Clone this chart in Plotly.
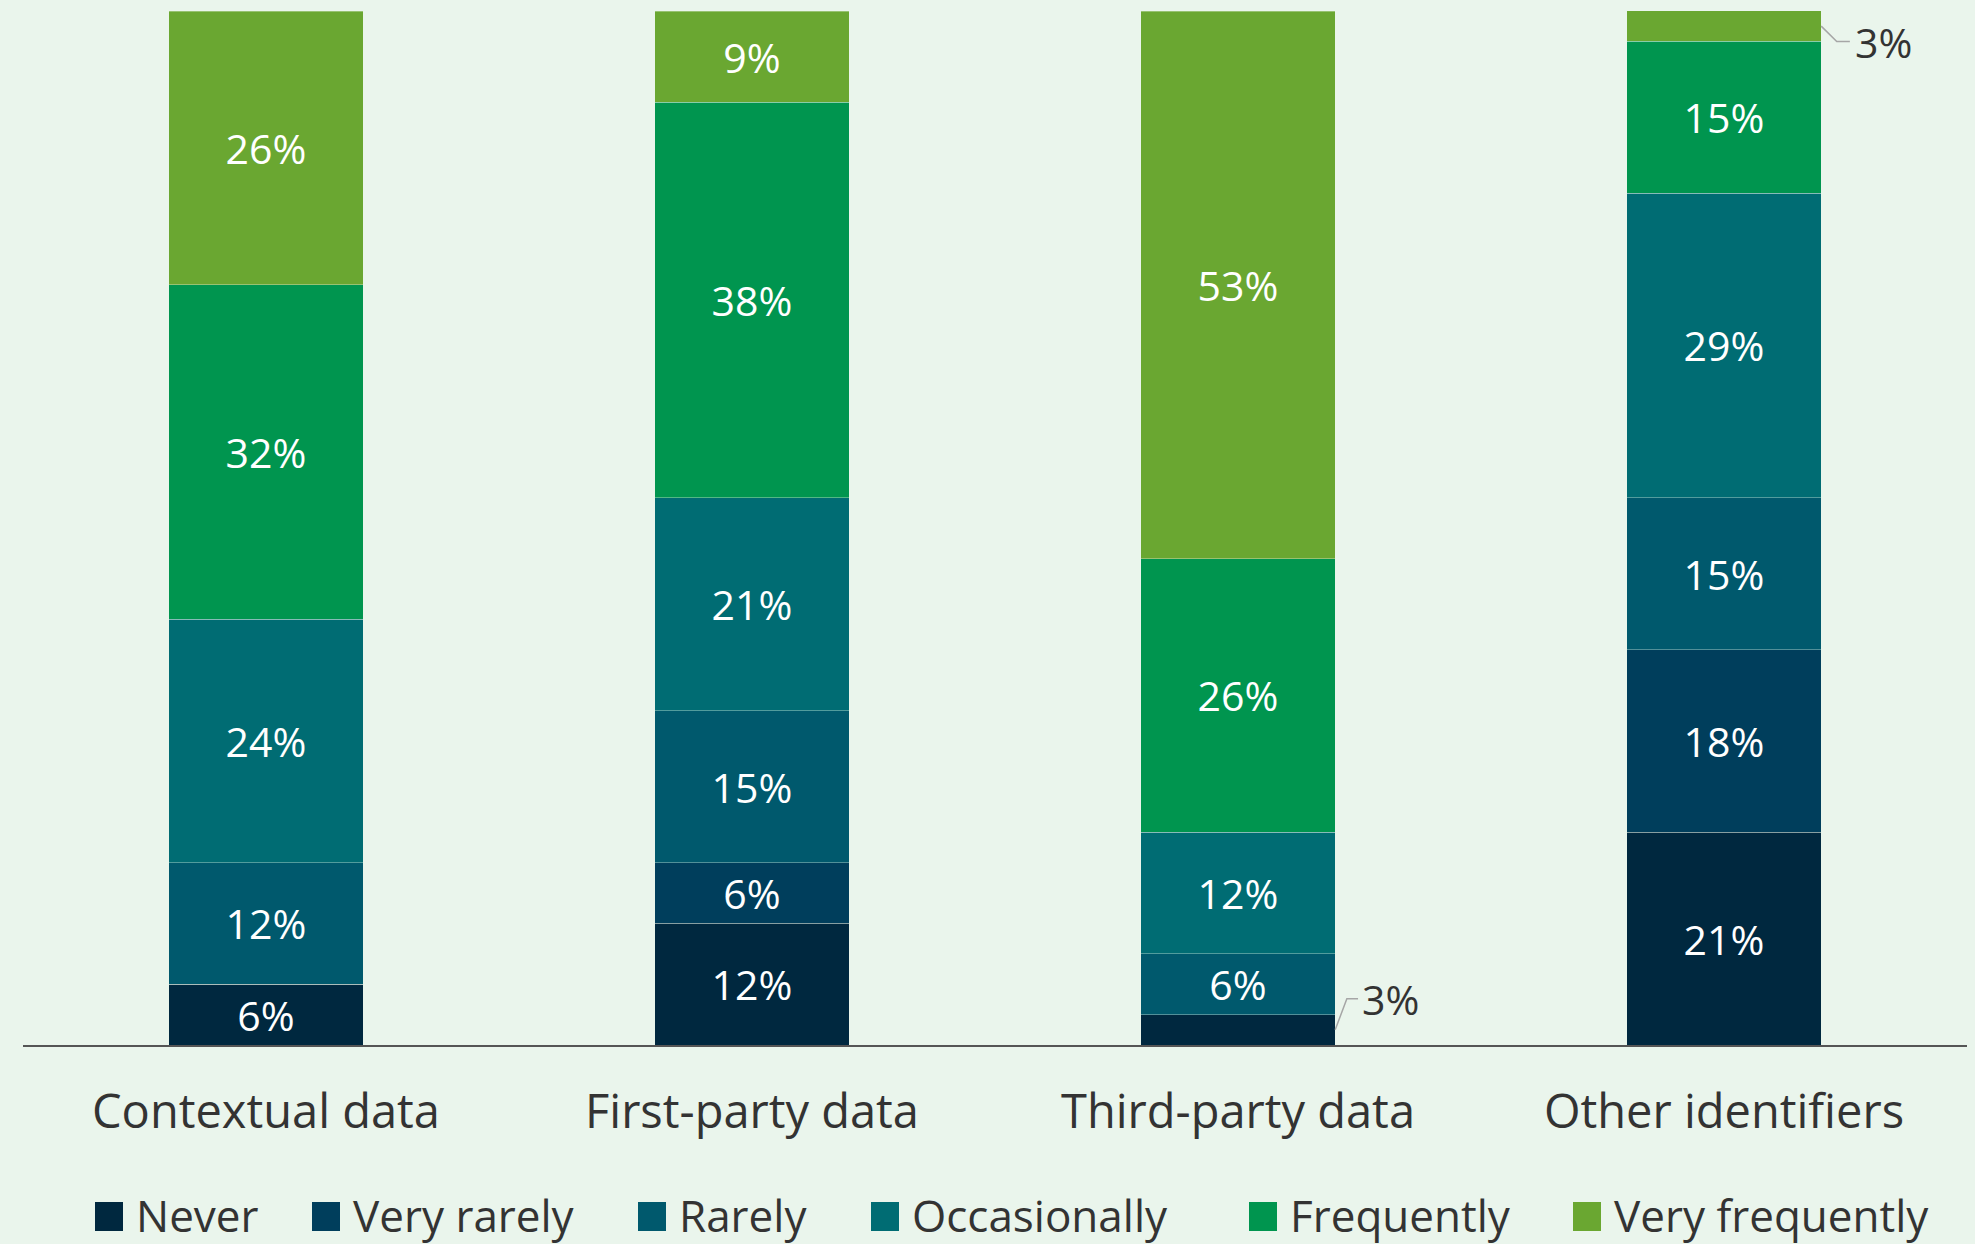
import plotly.graph_objects as go

# ---------------- data ----------------
categories = ["Contextual data", "First-party data", "Third-party data", "Other identifiers"]
series_names = ["Never", "Very rarely", "Rarely", "Occasionally", "Frequently", "Very frequently"]

never = [5.88, 11.76, 2.94, 20.59]
very_rarely = [0.0, 5.88, 0.0, 17.65]
rarely = [11.76, 14.71, 5.88, 14.71]
occasionally = [23.53, 20.59, 11.76, 29.41]
frequently = [32.35, 38.24, 26.47, 14.71]
very_frequently = [26.47, 8.82, 52.94, 2.94]

series_values = [never, very_rarely, rarely, occasionally, frequently, very_frequently]
colors = ["#00283F", "#003E5C", "#00596D", "#006C73", "#00954F", "#6AA731"]

# ---------------- layout constants ----------------
FIG_W, FIG_H = 1975, 1244
L, R, T, B = 23, 1967, 11, 1045
PW, PH = R - L, B - T
BG = "#EAF5EC"
FONT = "Open Sans"
TXT = "#333333"


def px_x(x):
    return (x - L) / PW


def px_y(y):
    return (B - y) / PH


fig = go.Figure()

for name, vals, col in zip(series_names, series_values, colors):
    labels = [f"{round(v)}%" if v >= 5 else "" for v in vals]
    fig.add_trace(go.Bar(
        x=categories, y=vals, name=name,
        marker=dict(color=col, line=dict(color="rgba(234,245,236,0.35)", width=1)),
        text=labels, textposition="inside", insidetextanchor="middle",
        textfont=dict(color="white", size=41, family=FONT),
        constraintext="none", showlegend=False, hoverinfo="skip",
    ))

shapes = []
annotations = []

# outside labels for small segments (leader lines)
# Third-party data, Never segment
i = 2
v = never[i]
mid = v / 2
shapes.append(dict(type="path", xref="x", yref="y",
                   path=f"M {i+0.2},{mid} L {i+0.224},{mid+3.0} L {i+0.247},{mid+3.0}",
                   line=dict(color="#A6A6A6", width=1.5)))
annotations.append(dict(xref="x", yref="y", x=i + 0.252, y=mid + 3.0, xanchor="left", yanchor="middle",
                        text=f"{round(v)}%", showarrow=False, font=dict(size=41, color=TXT, family=FONT)))
# Other identifiers, Very frequently segment
i = 3
v = very_frequently[i]
top = sum(s[i] for s in series_values)
mid = top - v / 2
shapes.append(dict(type="path", xref="x", yref="y",
                   path=f"M {i+0.2},{mid} L {i+0.232},{mid-1.5} L {i+0.259},{mid-1.5}",
                   line=dict(color="#A6A6A6", width=1.5)))
annotations.append(dict(xref="x", yref="y", x=i + 0.265, y=mid - 1.5, xanchor="left", yanchor="middle",
                        text=f"{round(v)}%", showarrow=False, font=dict(size=41, color=TXT, family=FONT)))

# manual legend
legend_sq_x = [95, 312, 638, 871, 1249, 1573]
sq_w, sq_top, sq_bot = 28, 1202, 1231
for name, col, sx in zip(series_names, colors, legend_sq_x):
    shapes.append(dict(type="rect", xref="paper", yref="paper",
                       x0=px_x(sx), x1=px_x(sx + sq_w), y0=px_y(sq_bot), y1=px_y(sq_top),
                       fillcolor=col, line=dict(width=0)))
    annotations.append(dict(xref="paper", yref="paper", x=px_x(sx + sq_w + 11), y=px_y(1215),
                            xanchor="left", yanchor="middle", text=name, showarrow=False,
                            font=dict(size=44, color=TXT, family=FONT)))

fig.update_layout(
    width=FIG_W, height=FIG_H,
    margin=dict(l=L, r=FIG_W - R, t=T, b=FIG_H - B),
    paper_bgcolor=BG, plot_bgcolor=BG,
    barmode="stack", bargap=0.6,
    font=dict(family=FONT, color=TXT),
    showlegend=False,
    shapes=shapes, annotations=annotations,
    xaxis=dict(range=[-0.5, 3.5], showline=True, linecolor="#555555", linewidth=2,
               showgrid=False, zeroline=False, ticks="", ticklabelstandoff=25,
               tickfont=dict(size=47, color=TXT, family=FONT), fixedrange=True),
    yaxis=dict(range=[0, 100], visible=False, showgrid=False, zeroline=False, fixedrange=True),
)

fig.write_html("out.html")
